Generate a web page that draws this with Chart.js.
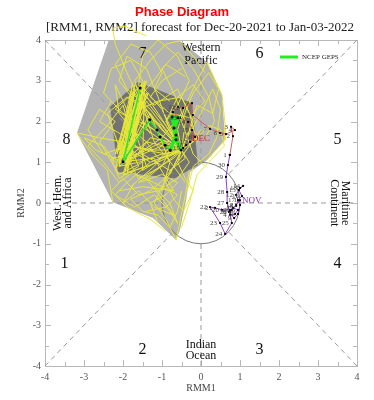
<!DOCTYPE html>
<html>
<head>
<meta charset="utf-8">
<script src="https://cdn.jsdelivr.net/npm/chart.js@4.4.0/dist/chart.umd.min.js"></script>
<style>
  html, body { margin: 0; padding: 0; background: #fff; }
  #wrap { width: 374px; height: 400px; }
</style>
</head>
<body>
<div id="wrap"><canvas id="c" width="374" height="400"></canvas></div>
<script>
// axis ticks (RMM1 / RMM2)
const axisTicks = [-4, -3, -2, -1, 0, 1, 2, 3, 4];

// phase labels
const phaseNames = ['1', '2', '3', '4', '5', '6', '7', '8'];
const phaseX = [-3.5, -1.5, 1.5, 3.5, 3.5, 1.5, -1.5, -3.45];
const phaseY = [-1.5, -3.6, -3.6, -1.5, 1.55, 3.65, 3.65, 1.55];

// observed RMM, November (purple) and December (red)
const novX = [1.0, 0.9, 0.79, 0.74, 0.87, 0.95, 0.82, 0.72, 0.85, 0.95, 1.0, 0.9, 1.0, 1.08, 0.97,
              1.05, 0.95, 0.9, 0.74, 0.54, 0.36, 0.23, 0.49, 0.62, 0.79, 0.74, 0.67, 0.67, 0.64, 0.69];
const novY = [0.07, -0.05, -0.17, -0.29, -0.27, -0.17, -0.12, -0.22, -0.37, -0.27, -0.05, 0.2, 0.37, 0.42, 0.32,
              0.17, 0.07, -0.07, -0.17, -0.17, -0.12, -0.1, -0.49, -0.76, -0.49, -0.22, 0, 0.27, 0.64, 0.93];
const decX = [0.74, 0.82, 0.77, 0.87, 0.64, 0.49, 0.23, -0.21, -0.23, -0.46, -0.59, -0.72, -0.54, -0.33, -0.23, -0.15, -0.28, -0.38, -0.46];
const decY = [1.18, 1.64, 1.87, 1.79, 1.69, 1.72, 1.82, 2.16, 2.45, 2.33, 2.36, 2.23, 2.09, 1.99, 1.79, 1.62, 1.5, 1.42, 1.35];

// NCEP GEPS ensemble mean forecast (first 7 days drawn thick, the rest thin)
const meanX = [-0.51, -0.64, -0.69, -0.59, -0.74, -0.64, -0.79, -0.92, -1.05, -1.13, -1.31, -2.0, -1.56];
const meanY = [1.3, 1.55, 1.84, 2.09, 2.11, 1.67, 1.3, 1.42, 1.62, 1.79, 2.04, 1.01, 2.82];
const meanSplit = 6;

// plume envelopes
const lightEnvX = [-2.26, -1.95, -0.54, 0.15, 0.54, 0.62, 0.15, -0.28, -0.38, -0.54, -0.64, -1.23, -2.26, -3.18];
const lightEnvY = [4.29, 4.34, 3.98, 3.46, 2.65, 1.55, 1.05, 0.76, 0.07, -0.66, -0.91, -0.37, 0.02, 1.72];
const darkEnvX = [-1.62, -0.23, -0.08, -0.67, -2.13, -2.33];
const darkEnvY = [2.97, 2.45, 0.93, 0.61, 0.76, 2.36];

// ensemble members
const members = [
  [[-0.5,1.3],[-0.8,1.6],[-1.2,2.0],[-1.6,2.6],[-1.9,3.2],[-2.2,3.9],[-2.26,4.29],[-1.95,4.34],[-1.4,4.1]],
  [[-0.5,1.3],[-0.6,1.8],[-0.4,2.4],[-0.1,3.0],[0.15,3.46],[0.54,2.65],[0.62,1.9],[0.62,1.55],[0.15,1.05]],
  [[-0.5,1.3],[-0.9,1.2],[-1.4,1.3],[-2.0,1.5],[-2.6,1.6],[-3.18,1.72],[-2.8,1.2],[-2.4,0.8],[-2.26,0.02]],
  [[-0.5,1.3],[-0.7,0.9],[-1.0,0.4],[-1.2,0.0],[-0.9,-0.4],[-0.64,-0.91],[-0.55,-0.5],[-0.4,0.2],[-0.3,0.8]],
  [[-0.5,1.3],[-1.0,1.8],[-1.5,2.4],[-1.7,3.0],[-1.3,3.5],[-0.9,3.9],[-0.54,3.98],[-0.2,3.6],[0.1,3.2]],
  [[-0.5,1.3],[-1.1,1.0],[-1.7,0.8],[-2.1,0.5],[-2.5,1.0],[-2.9,1.4],[-2.4,1.9],[-2.0,2.4],[-1.8,1.7]],
  [[-0.5,1.3],[-0.3,1.7],[0.0,2.2],[0.3,2.8],[0.5,2.3],[0.4,1.6],[0.2,1.2],[-0.2,0.9],[-0.35,0.3]],
  [[-0.5,1.3],[-1.3,2.3],[-1.9,2.8],[-2.2,3.4],[-1.8,3.9],[-1.3,3.7],[-1.0,3.2],[-1.2,2.8],[-0.8,2.5]],
  [[-0.5,1.3],[-0.8,0.7],[-1.3,0.3],[-1.8,0.1],[-1.5,-0.2],[-1.1,-0.3],[-0.8,-0.6],[-0.6,-0.2],[-0.5,0.3]],
  [[-0.5,1.3],[-1.0,1.5],[-1.6,1.2],[-2.3,1.1],[-2.1,0.6],[-1.6,0.9],[-1.9,1.6],[-2.6,2.0],[-2.3,2.5]],
  [[-0.5,1.3],[-0.4,2.0],[-0.7,2.7],[-1.0,3.3],[-0.6,3.7],[-0.2,3.3],[0.2,2.6],[0.35,2.0],[0.1,1.6]],
  [[-0.5,1.3],[-1.2,1.8],[-2.0,2.2],[-2.5,2.7],[-2.3,3.3],[-1.8,3.5],[-1.5,3.0],[-1.7,2.3],[-1.3,1.7]],
  [[-0.5,1.3],[-0.9,1.0],[-1.4,0.6],[-1.0,0.1],[-0.7,-0.3],[-1.2,-0.1],[-1.6,0.3],[-2.0,0.0],[-1.7,0.5]],
  [[-0.5,1.3],[-1.4,1.5],[-2.0,1.0],[-2.7,1.3],[-3.0,1.6],[-2.5,1.4],[-2.2,1.0],[-1.8,1.3],[-1.3,1.0]],
  [[-0.5,1.3],[-1.1,2.2],[-1.6,2.9],[-1.5,3.6],[-1.1,4.0],[-0.6,3.6],[-0.3,3.0],[-0.6,2.4],[-0.9,2.0]],
  [[-0.5,1.3],[-0.2,1.5],[0.2,1.9],[0.5,1.8],[0.6,1.4],[0.3,1.1],[-0.1,0.7],[-0.3,0.0],[-0.5,-0.6]],
  [[-0.5,1.3],[-1.5,2.0],[-1.8,1.4],[-2.0,0.7],[-1.4,0.9],[-1.8,2.1],[-2.2,2.9],[-2.1,2.2],[-1.6,1.6]],
  [[-0.5,1.3],[-0.7,1.1],[-1.2,0.8],[-1.6,0.5],[-1.0,0.7],[-0.6,0.5],[-0.9,0.2],[-1.3,0.0],[-1.1,-0.5]],
  [[-0.5,1.3],[-1.0,1.4],[-2.0,1.0],[-1.7,2.75],[-2.2,0.8],[-1.35,2.7],[-2.1,1.1],[-1.7,2.7],[-1.2,1.9]],
  [[-0.5,1.3],[-0.9,1.9],[-1.4,2.5],[-1.9,1.2],[-1.4,2.7],[-2.0,1.0],[-1.3,2.2],[-0.8,1.0],[-1.0,0.3]],
  [[-0.5,1.3],[-0.6,1.5],[-1.0,2.3],[-1.55,2.9],[-2.1,1.0],[-1.2,1.1],[-0.7,0.3],[-1.5,0.4],[-2.1,0.3]],
  [[-0.5,1.3],[-0.2,2.0],[-0.5,2.6],[-1.1,2.5],[-1.8,2.2],[-2.0,1.3],[-1.6,0.6],[-1.0,0.9],[-0.6,1.7]],
  [[-0.5,1.3],[-1.0,1.2],[-1.6,1.0],[-2.1,0.9],[-1.75,2.95],[-2.15,1.2],[-1.7,2.8],[-2.2,1.2],[-1.5,2.5],[-1.9,0.7]],
  [[-0.5,1.3],[-0.8,1.5],[-1.3,1.6],[-1.8,1.0],[-1.5,2.9],[-2.1,1.3],[-1.6,2.7],[-1.2,1.5],[-0.7,0.9],[-0.4,0.5]],
  [[-0.5,1.3],[-1.1,1.6],[-1.7,2.0],[-2.2,2.3],[-1.4,3.0],[-1.9,0.8],[-1.2,0.5],[-0.6,0.2],[-0.9,-0.1],[-1.4,-0.2]],
  [[-0.5,1.3],[-0.4,1.1],[-0.8,0.8],[-1.5,1.2],[-2.0,1.8],[-1.7,2.9],[-1.2,2.4],[-0.6,2.8],[-0.3,2.2],[-0.1,1.5]],
  [[-0.5,1.3],[-0.9,1.7],[-1.3,2.2],[-1.9,2.6],[-2.4,2.2],[-2.0,1.1],[-1.45,2.9],[-2.1,0.9],[-1.0,1.6],[-0.5,2.2]],
  [[-0.5,1.3],[-0.7,1.2],[-1.1,1.1],[-1.4,1.5],[-1.9,1.9],[-1.5,2.2],[-1.0,1.9],[-0.7,1.5],[-1.2,0.9],[-1.8,0.4]],
  [[-0.5,1.3],[-0.3,1.0],[-0.6,0.6],[-1.1,0.3],[-1.6,0.2],[-2.0,0.6],[-2.3,0.3],[-1.9,-0.1],[-1.3,-0.4],[-0.9,-0.7]],
  [[-0.5,1.3],[-0.9,2.0],[-0.6,2.6],[-0.2,2.9],[0.1,2.5],[-0.3,2.1],[-0.8,2.2],[-1.3,2.6],[-1.0,3.0],[-0.5,3.3]],
  [[-0.5,1.3],[-1.2,1.3],[-1.9,1.4],[-2.5,1.2],[-2.9,1.8],[-2.6,2.3],[-2.2,2.0],[-2.6,1.5],[-2.1,0.7],[-1.5,1.0]],
  [[-0.5,1.3],[-0.6,1.0],[-0.4,0.6],[-0.2,0.3],[-0.45,-0.2],[-0.7,0.1],[-0.95,0.6],[-0.6,1.0],[-0.3,1.4],[0.0,1.8]],
  [[-0.5,1.3],[-1.0,1.1],[-1.5,0.8],[-1.45,3.0],[-1.95,0.75],[-1.5,2.7],[-1.9,0.9],[-1.6,2.6],[-2.0,1.2],[-1.3,2.0]],
  [[-0.5,1.3],[-0.8,1.8],[-1.1,2.6],[-1.4,3.3],[-1.9,3.6],[-2.1,3.0],[-1.7,2.5],[-1.3,2.9],[-0.9,3.4],[-0.4,3.1]],
  [[-0.5,1.3],[-0.3,1.8],[-0.1,2.4],[0.3,2.2],[0.45,2.8],[0.2,3.2],[-0.2,2.7],[-0.5,2.0],[-0.2,1.2],[0.1,0.9]],
  [[-0.5,1.3],[-1.3,1.0],[-1.9,0.5],[-2.2,0.2],[-1.7,-0.1],[-1.2,0.2],[-0.8,-0.2],[-0.6,-0.5],[-0.8,0.0],[-1.2,0.4]]
];

const pts = (xs, ys) => xs.map((x, i) => ({ x: x, y: ys[i] }));
const SERIF = '"Liberation Serif", "DejaVu Serif", serif';

const datasets = [];
datasets.push({ label: 'light', data: pts(lightEnvX, lightEnvY), borderWidth: 0, pointRadius: 0,
  backgroundColor: '#b3b3b3', fill: 'shape', order: 100, clip: false });
datasets.push({ label: 'dark', data: pts(darkEnvX, darkEnvY), borderWidth: 0, pointRadius: 0,
  backgroundColor: '#737373', fill: 'shape', order: 99, clip: false });
members.forEach((m, k) => {
  datasets.push({ label: 'm' + k, data: m.map(p => ({ x: p[0], y: p[1] })), borderColor: '#e8e83a',
    borderWidth: 1, pointRadius: 0, fill: false, order: 50, clip: false });
});
const novIdx = datasets.length;
datasets.push({ label: 'nov', data: pts(novX.concat([decX[0]]), novY.concat([decY[0]])), borderColor: '#8a3fc8',
  borderWidth: 1, pointRadius: 1.4, pointStyle: 'rect', pointBackgroundColor: '#000', pointBorderWidth: 0, order: 3 });
const decIdx = datasets.length;
datasets.push({ label: 'dec', data: pts(decX, decY), borderColor: '#d65a5a',
  borderWidth: 1, pointRadius: 1.4, pointStyle: 'rect', pointBackgroundColor: '#000', pointBorderWidth: 0, order: 2 });
const meanPts = pts(meanX, meanY);
datasets.push({ label: 'NCEP GEPS', data: meanPts.slice(0, meanSplit + 1), borderColor: '#22ee22',
  borderWidth: 3.5, pointRadius: 1.5, pointBackgroundColor: '#000', pointBorderWidth: 0, order: 1 });
datasets.push({ label: 'NCEP GEPS tail', data: meanPts.slice(meanSplit), borderColor: '#22ee22',
  borderWidth: 1.5, pointRadius: 1.5, pointBackgroundColor: '#000', pointBorderWidth: 0, order: 1 });

const decor = {
  id: 'decor',
  beforeDatasetsDraw(chart) {
    const ctx = chart.ctx, a = chart.chartArea, sx = chart.scales.x, sy = chart.scales.y;
    ctx.save();
    // titles
    ctx.textAlign = 'center'; ctx.textBaseline = 'middle';
    ctx.fillStyle = '#ff0000'; ctx.font = 'bold 13px "Liberation Sans", Arial, sans-serif';
    ctx.fillText('Phase Diagram', 182, 12);
    ctx.fillStyle = '#222'; ctx.font = '13px ' + SERIF;
    ctx.fillText('[RMM1, RMM2] forecast for Dec-20-2021 to Jan-03-2022', 200, 28);
    ctx.fillStyle = '#444'; ctx.font = '10px ' + SERIF;
    ctx.fillText('RMM1', (a.left + a.right) / 2, 388);
    ctx.translate(21, (a.top + a.bottom) / 2); ctx.rotate(-Math.PI / 2);
    ctx.fillText('RMM2', 0, 0);
    ctx.restore();
    // frame + inward ticks
    ctx.save();
    ctx.strokeStyle = '#b8b8b8'; ctx.lineWidth = 1;
    ctx.strokeRect(a.left + 0.5, a.top + 0.5, a.right - a.left, a.bottom - a.top);
    ctx.beginPath();
    for (let v = -4; v <= 4; v += 0.5) {
      const len = Number.isInteger(v) ? 6 : 4;
      const px = Math.round(sx.getPixelForValue(v)) + 0.5, py = Math.round(sy.getPixelForValue(v)) + 0.5;
      ctx.moveTo(px, a.bottom); ctx.lineTo(px, a.bottom - len);
      ctx.moveTo(px, a.top); ctx.lineTo(px, a.top + len);
      ctx.moveTo(a.left, py); ctx.lineTo(a.left + len, py);
      ctx.moveTo(a.right, py); ctx.lineTo(a.right - len, py);
    }
    ctx.stroke();
    ctx.restore();
  },
  afterDatasetDraw(chart, args) {
    if (args.index !== 1) return;
    const ctx = chart.ctx, sx = chart.scales.x, sy = chart.scales.y;
    const X = v => sx.getPixelForValue(v), Y = v => sy.getPixelForValue(v);
    ctx.save();
    // dashed phase boundaries
    ctx.strokeStyle = '#999'; ctx.lineWidth = 1; ctx.setLineDash([5, 4]);
    const r = Math.SQRT1_2;
    const segs = [[-4, 0, -1, 0], [1, 0, 4, 0], [0, -4, 0, -1], [0, 1, 0, 4],
                  [-4, -4, -r, -r], [4, 4, r, r], [-4, 4, -r, r], [4, -4, r, -r]];
    ctx.beginPath();
    segs.forEach(s => { ctx.moveTo(X(s[0]), Y(s[1])); ctx.lineTo(X(s[2]), Y(s[3])); });
    ctx.stroke();
    ctx.setLineDash([]);
    // unit circle
    ctx.strokeStyle = '#777';
    ctx.beginPath();
    ctx.ellipse(X(0), Y(0), X(1) - X(0), Y(0) - Y(1), 0, 0, Math.PI * 2);
    ctx.stroke();
    // phase numbers
    ctx.fillStyle = '#111'; ctx.font = '16px ' + SERIF; ctx.textAlign = 'center'; ctx.textBaseline = 'middle';
    phaseNames.forEach((p, i) => ctx.fillText(p, X(phaseX[i]), Y(phaseY[i])));
    // region names
    ctx.font = '12px ' + SERIF;
    ctx.fillText('Western', X(0), Y(3.8));
    ctx.fillText('Pacific', X(0), Y(3.5));
    ctx.fillText('Indian', X(0), Y(-3.48));
    ctx.fillText('Ocean', X(0), Y(-3.76));
    ctx.save();
    ctx.translate(X(-3.67), Y(0)); ctx.rotate(-Math.PI / 2);
    ctx.fillText('West. Hem.', 0, 0);
    ctx.fillText('and Africa', 0, 10);
    ctx.restore();
    ctx.save();
    ctx.translate(X(3.69), Y(0)); ctx.rotate(Math.PI / 2);
    ctx.fillText('Maritime', 0, 0);
    ctx.fillText('Continent', 0, 11);
    ctx.restore();
    ctx.restore();
  },
  afterDatasetsDraw(chart) {
    const ctx = chart.ctx;
    ctx.save();
    ctx.font = '7px ' + SERIF; ctx.textAlign = 'right'; ctx.textBaseline = 'middle'; ctx.fillStyle = '#444';
    const nov = chart.getDatasetMeta(novIdx).data, dec = chart.getDatasetMeta(decIdx).data;
    novX.forEach((v, i) => ctx.fillText(String(i + 1), nov[i].x - 3, nov[i].y));
    decX.forEach((v, i) => ctx.fillText(String(i + 1), dec[i].x - 3, dec[i].y));
    ctx.textAlign = 'left'; ctx.font = '9px ' + SERIF;
    ctx.fillStyle = '#7b2fbe'; ctx.fillText('NOV', nov[0].x + 2, nov[0].y);
    const last = dec[decX.length - 1];
    ctx.fillStyle = '#cc2222'; ctx.fillText('DEC', last.x + 9, last.y - 9);
    // legend
    ctx.strokeStyle = '#22ee22'; ctx.lineWidth = 3;
    ctx.beginPath(); ctx.moveTo(280, 57); ctx.lineTo(298, 57); ctx.stroke();
    ctx.fillStyle = '#222'; ctx.font = '7px ' + SERIF;
    ctx.fillText('NCEP GEPS', 302, 57);
    ctx.restore();
  }
};

new Chart(document.getElementById('c'), {
  type: 'line',
  data: { datasets: datasets },
  options: {
    responsive: false,
    animation: false,
    layout: { padding: { top: 40, right: 17, left: 0, bottom: 0 } },
    plugins: { legend: { display: false }, tooltip: { enabled: false } },
    elements: { line: { tension: 0 } },
    scales: {
      x: {
        type: 'linear', min: -4, max: 4,
        afterBuildTicks: s => { s.ticks = axisTicks.map(v => ({ value: v })); },
        ticks: { padding: 5, color: '#555', font: { family: SERIF, size: 10 } },
        grid: { display: false, drawTicks: false },
        border: { display: false },
        afterFit: s => { s.height = 34; }
      },
      y: {
        type: 'linear', min: -4, max: 4,
        afterBuildTicks: s => { s.ticks = axisTicks.map(v => ({ value: v })); },
        ticks: { padding: 4, color: '#555', font: { family: SERIF, size: 10 } },
        grid: { display: false, drawTicks: false },
        border: { display: false },
        afterFit: s => { s.width = 45; }
      }
    }
  },
  plugins: [decor]
});
</script>
</body>
</html>
